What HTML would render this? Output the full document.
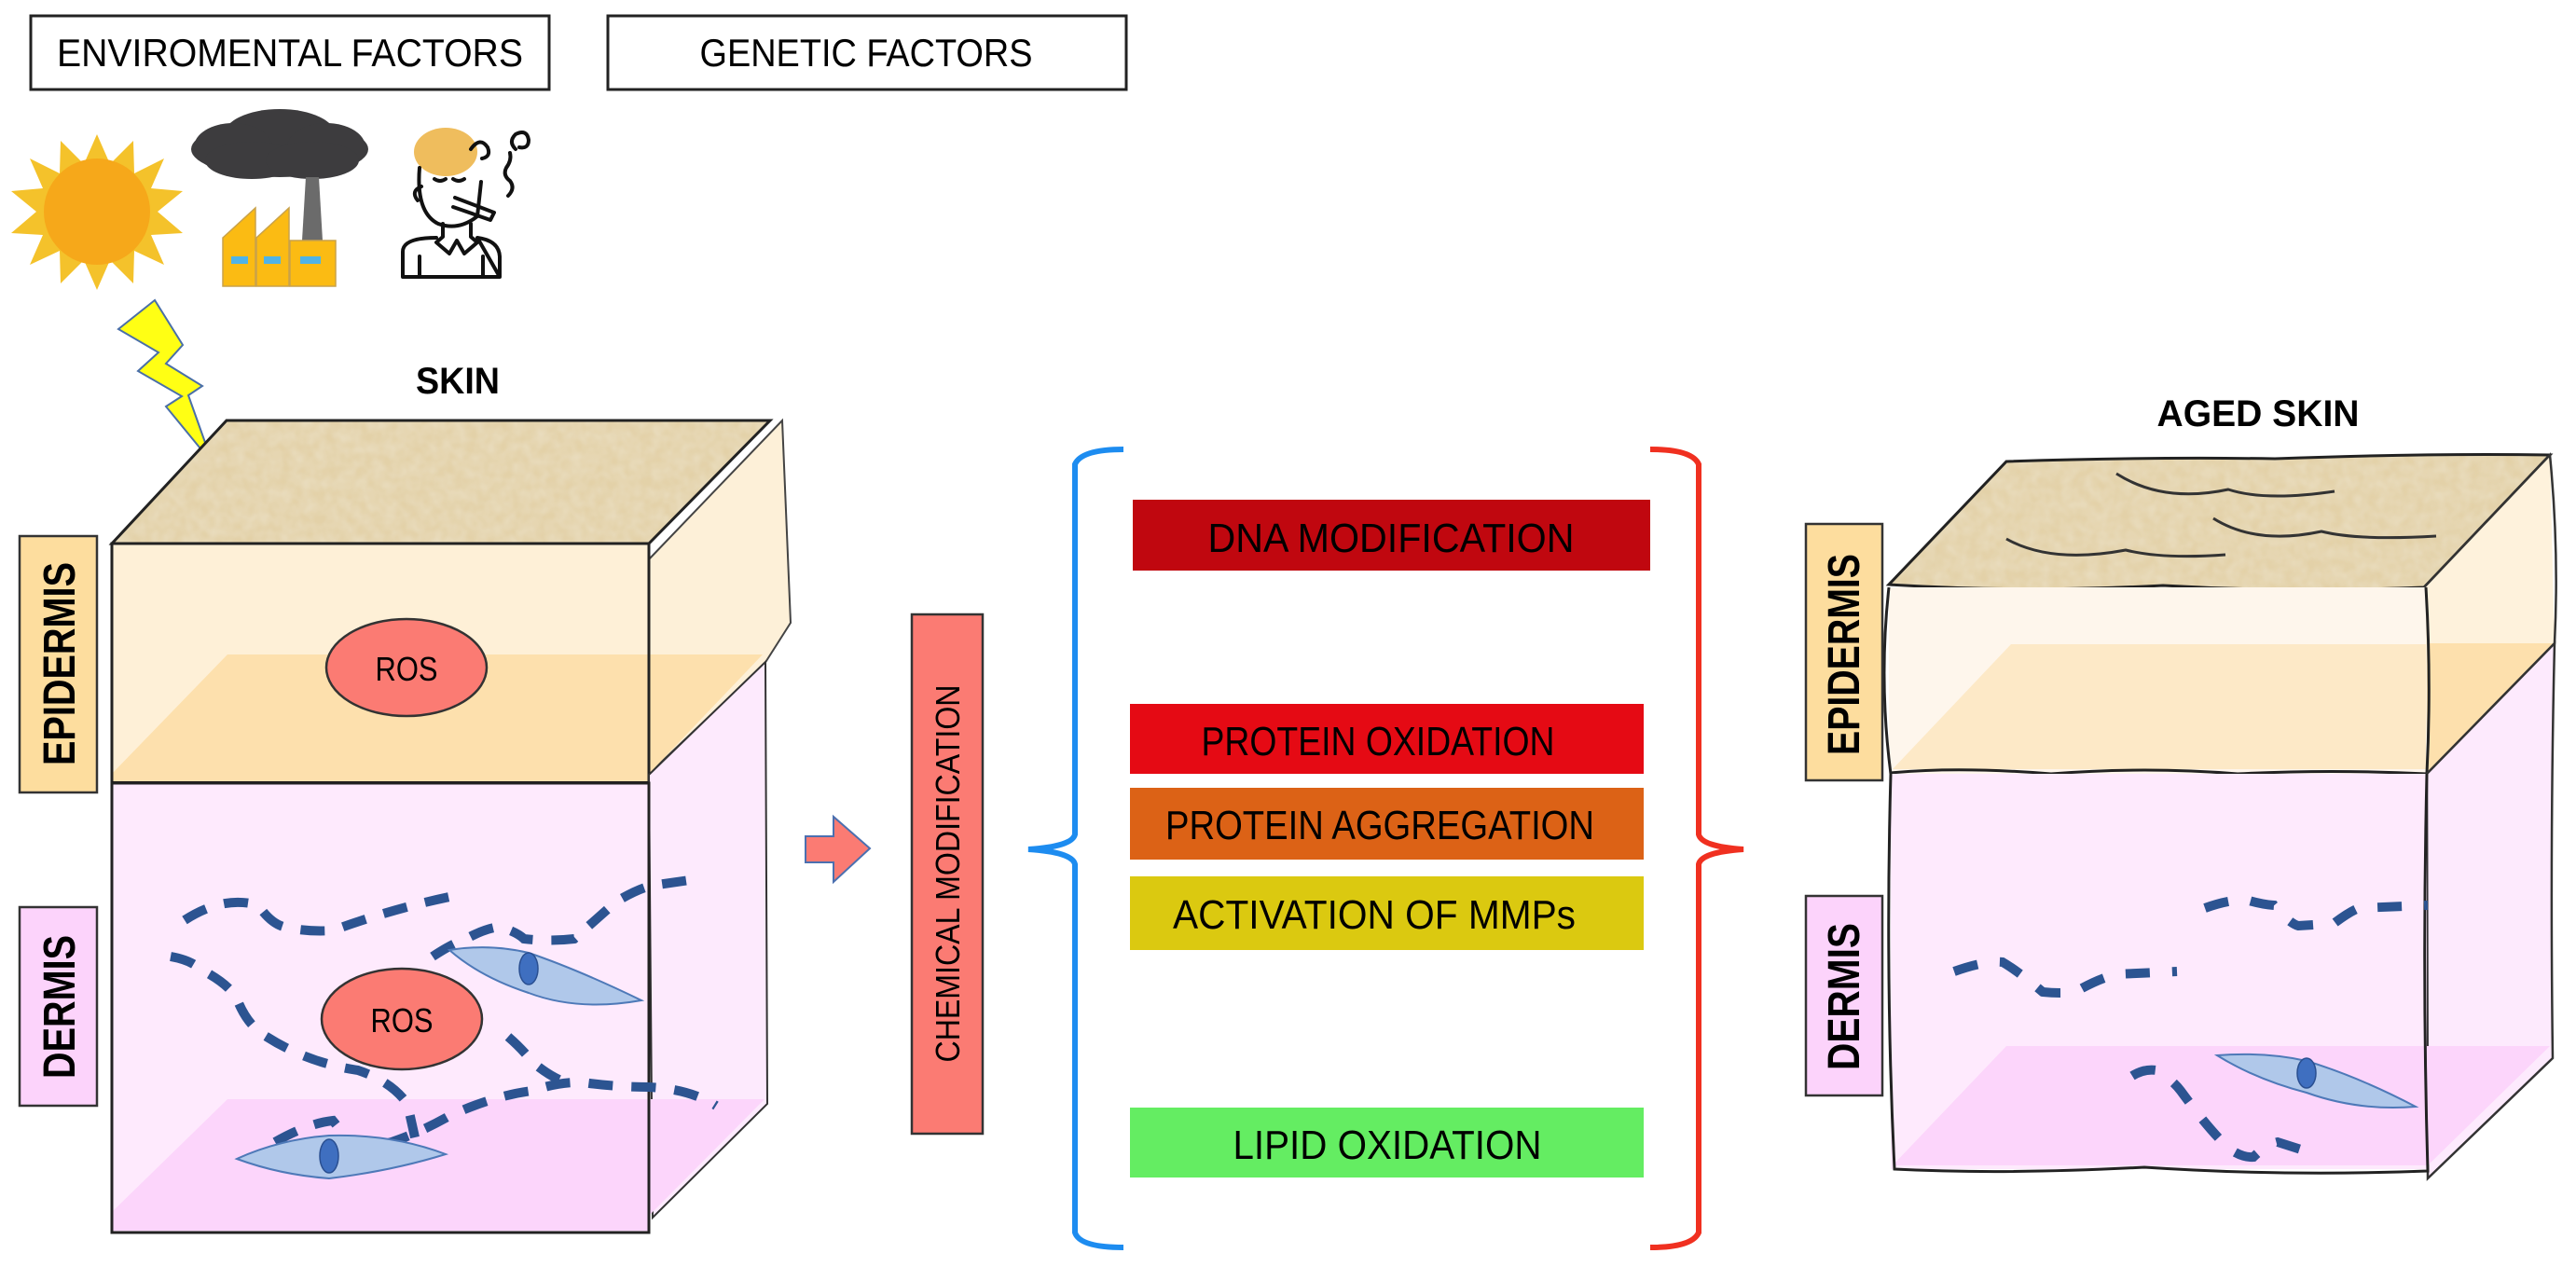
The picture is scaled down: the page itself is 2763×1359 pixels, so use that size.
<!DOCTYPE html>
<html><head><meta charset="utf-8"><style>html,body{margin:0;padding:0;background:#fff}svg{display:block}</style></head>
<body>
<svg width="2763" height="1359" viewBox="0 0 2763 1359" xmlns="http://www.w3.org/2000/svg" font-family="Liberation Sans, sans-serif">
<defs>
<filter id="tex" x="0" y="0" width="100%" height="100%">
<feTurbulence type="fractalNoise" baseFrequency="0.08" numOctaves="2" seed="3" result="n"/>
<feColorMatrix in="n" type="matrix" values="0 0 0 0 0.86  0 0 0 0 0.79  0 0 0 0 0.63  0 0 0 -1.4 1.1" result="c"/>
<feComposite in="c" in2="SourceGraphic" operator="in"/>
</filter>
</defs>

<rect x="33" y="17" width="556" height="79" fill="#fff" stroke="#222" stroke-width="3"/>
<text x="311" y="71" font-size="42" text-anchor="middle" textLength="500" lengthAdjust="spacingAndGlyphs">ENVIROMENTAL FACTORS</text>
<rect x="652" y="17" width="556" height="79" fill="#fff" stroke="#222" stroke-width="3"/>
<text x="929" y="71" font-size="42" text-anchor="middle" textLength="357" lengthAdjust="spacingAndGlyphs">GENETIC FACTORS</text>

<polygon fill="#f4c22b" points="104,144 118,176 143,151 144,186 176,170 162,202 196,205 169,227 196,250 162,252 176,284 144,269 143,304 118,279 104,311 90,279 65,304 64,269 32,284 46,252 12,250 39,227 12,205 46,202 32,170 64,186 65,151 90,176"/>
<ellipse cx="104" cy="227" rx="57" ry="57" fill="#f6a81a"/>

<g fill="#3d3c3e">
<ellipse cx="300" cy="160" rx="95" ry="30"/>
<ellipse cx="300" cy="145" rx="60" ry="28"/>
<ellipse cx="250" cy="158" rx="42" ry="26"/>
<ellipse cx="350" cy="158" rx="42" ry="26"/>
<ellipse cx="270" cy="172" rx="50" ry="20"/>
<ellipse cx="335" cy="172" rx="50" ry="20"/>
</g>
<polygon fill="#6b6b6b" points="328,190 342,190 346,258 324,258"/>
<g fill="#fbbb13" stroke="#c9a24a" stroke-width="1.5">
<polygon points="239,255 274,223 274,307 239,307"/>
<polygon points="275,255 310,223 310,307 275,307"/>
<rect x="311" y="258" width="49" height="49"/>
</g>
<g fill="#4fb3e8"><rect x="248" y="275" width="18" height="8"/><rect x="283" y="275" width="18" height="8"/><rect x="322" y="275" width="22" height="8"/></g>

<ellipse cx="478" cy="163" rx="34" ry="26" fill="#efbd5d"/>
<g fill="none" stroke="#111" stroke-width="4" stroke-linecap="round" stroke-linejoin="round">
<path d="M450,180 Q446,228 470,240 Q492,248 512,232 L516,195"/>
<path d="M452,200 Q440,205 448,215"/>
<path d="M466,192 q6,4 12,0 M486,192 q6,4 12,0"/>
<path d="M488,212 L530,228 L526,236 L486,222"/>
<path d="M505,160 q10,-14 18,-2 q4,10 -6,12"/>
<path d="M475,240 L475,254 L468,260 L482,272 L490,258 L498,272 L512,260 L505,254 L505,240"/>
<path d="M432,297 L432,270 Q432,255 468,255 M512,255 Q535,258 536,275 L536,297 Z M432,297 L536,297"/>
<path d="M450,297 L450,275 M518,297 L518,275"/>
<path d="M545,210 q8,-8 2,-16 q-8,-6 -4,-14 q6,-8 4,-16"/>
<path d="M553,160 q-8,-8 0,-16 q12,-6 14,6 q0,10 -10,8"/>
</g>

<polygon fill="#ffff14" stroke="#4a6fa8" stroke-width="2" points="166,322 127,353 170,378 148,398 195,425 178,436 228,497 202,424 217,414 178,390 196,370"/>

<text x="491" y="422" font-size="40" font-weight="bold" text-anchor="middle" textLength="90" lengthAdjust="spacingAndGlyphs">SKIN</text>

<polygon points="243,451 826,451 696,583 120,583" fill="#e3d1a8"/>
<polygon points="243,451 826,451 696,583 120,583" fill="#fff" filter="url(#tex)" opacity="0.55"/>
<polygon points="243,451 826,451 696,583 120,583" fill="none" stroke="#222" stroke-width="3"/>
<polygon points="696,600 839,451 848,668 820,712 696,830" fill="#fdf0d8" stroke="#444" stroke-width="2"/>
<rect x="120" y="583" width="576" height="257" fill="#fef0d7"/>
<polygon points="244,702 818,702 696,830 696,838 120,838 120,830" fill="#fde0ad"/>
<rect x="120" y="583" width="576" height="257" fill="none" stroke="#222" stroke-width="3"/>
<line x1="120" y1="840" x2="696" y2="840" stroke="#111" stroke-width="4"/>
<ellipse cx="436" cy="716" rx="86" ry="52" fill="#fb7b73" stroke="#333" stroke-width="2.5"/>
<text x="436" y="730" font-size="36" text-anchor="middle" textLength="67" lengthAdjust="spacingAndGlyphs">ROS</text>
<polygon points="696,831 821,710 823,1184 700,1306" fill="#fdeafd" stroke="#333" stroke-width="2"/>
<rect x="120" y="840" width="576" height="482" fill="#feeafd"/>
<polygon points="244,1179 820,1179 696,1304 696,1320 120,1320 120,1300" fill="#fcd5fb"/>
<rect x="120" y="840" width="576" height="482" fill="none" stroke="#222" stroke-width="3"/>

<rect x="21" y="575" width="83" height="275" fill="#fddd9e" stroke="#333" stroke-width="2.5"/>
<text transform="translate(80,712) rotate(-90)" font-size="48" font-weight="bold" text-anchor="middle" textLength="218" lengthAdjust="spacingAndGlyphs">EPIDERMIS</text>
<rect x="21" y="973" width="83" height="213" fill="#fcd3fb" stroke="#333" stroke-width="2.5"/>
<text transform="translate(80,1080) rotate(-90)" font-size="48" font-weight="bold" text-anchor="middle" textLength="154" lengthAdjust="spacingAndGlyphs">DERMIS</text>

<g fill="none" stroke="#2c5491" stroke-width="10" stroke-dasharray="26 20">
<path d="M198,987 Q240,960 277,971 Q290,990 304,994 Q330,1000 357,998 Q420,975 482,962 L495,973"/>
<path d="M183,1026 Q205,1030 214,1039 Q245,1055 254,1071 Q265,1100 286,1112 Q330,1140 384,1148 Q420,1160 437,1184 L445,1220"/>
<path d="M295,1225 Q330,1205 357,1202 Q370,1218 380,1232 Q400,1230 420,1225 Q450,1215 482,1197 Q530,1175 571,1170 Q600,1160 625,1161 Q660,1166 696,1166 Q740,1168 768,1186"/>
<path d="M464,1026 Q485,1012 500,1007 Q520,996 536,994 Q555,1000 562,1007 Q590,1010 616,1007 Q635,990 661,967 Q690,950 705,949 L754,942"/>
<path d="M545,1112 Q560,1125 571,1139 Q590,1155 607,1161"/>
</g>
<path d="M482,1019 Q525,1012 567,1022 Q620,1040 688,1073 Q620,1085 567,1065 Q515,1048 482,1019 Z" fill="#b0c8ea" stroke="#4e79b8" stroke-width="2"/>
<ellipse cx="567" cy="1039" rx="10" ry="17" fill="#3f6fc0" stroke="#2a4f91" stroke-width="1.5"/>
<path d="M254,1243 Q300,1222 353,1218 Q420,1216 478,1238 Q420,1256 353,1264 Q300,1260 254,1243 Z" fill="#b0c8ea" stroke="#4e79b8" stroke-width="2"/>
<ellipse cx="353" cy="1240" rx="10" ry="18" fill="#3f6fc0" stroke="#2a4f91" stroke-width="1.5"/>
<ellipse cx="431" cy="1093" rx="86" ry="54" fill="#fb7b73" stroke="#333" stroke-width="2.5"/>
<text x="431" y="1107" font-size="36" text-anchor="middle" textLength="67" lengthAdjust="spacingAndGlyphs">ROS</text>

<polygon points="864,897 894,897 894,876 933,910 894,946 894,925 864,925" fill="#fb7b73" stroke="#4b70b0" stroke-width="2"/>

<rect x="978" y="659" width="76" height="557" fill="#fb7b73" stroke="#333" stroke-width="2.5"/>
<text transform="translate(1029,937) rotate(-90)" font-size="36" text-anchor="middle" textLength="405" lengthAdjust="spacingAndGlyphs">CHEMICAL MODIFICATION</text>

<path d="M1205,482 Q1160,482 1153,498 L1153,895 Q1150,908 1103,911 Q1150,914 1153,927 L1153,1322 Q1158,1338 1205,1338" fill="none" stroke="#1d8cf0" stroke-width="6"/>
<path d="M1770,482 Q1815,482 1822,498 L1822,895 Q1825,908 1870,911 Q1825,914 1822,927 L1822,1322 Q1815,1338 1770,1338" fill="none" stroke="#f03020" stroke-width="6"/>

<rect x="1215" y="536" width="555" height="76" fill="#c0070f"/>
<text x="1492" y="592" font-size="44" text-anchor="middle" textLength="393" lengthAdjust="spacingAndGlyphs">DNA MODIFICATION</text>
<rect x="1212" y="755" width="551" height="75" fill="#e50a14"/>
<text x="1478" y="810" font-size="44" text-anchor="middle" textLength="379" lengthAdjust="spacingAndGlyphs">PROTEIN OXIDATION</text>
<rect x="1212" y="845" width="551" height="77" fill="#dc6216"/>
<text x="1480" y="900" font-size="44" text-anchor="middle" textLength="460" lengthAdjust="spacingAndGlyphs">PROTEIN AGGREGATION</text>
<rect x="1212" y="940" width="551" height="79" fill="#dbc910"/>
<text x="1474" y="996" font-size="44" text-anchor="middle" textLength="432" lengthAdjust="spacingAndGlyphs">ACTIVATION OF MMPs</text>
<rect x="1212" y="1188" width="551" height="75" fill="#64ed62"/>
<text x="1488" y="1243" font-size="44" text-anchor="middle" textLength="331" lengthAdjust="spacingAndGlyphs">LIPID OXIDATION</text>

<text x="2422" y="457" font-size="40" font-weight="bold" text-anchor="middle" textLength="217" lengthAdjust="spacingAndGlyphs">AGED SKIN</text>
<path d="M2152,495 Q2300,490 2440,492 Q2600,486 2735,488 L2600,630 Q2460,636 2320,628 Q2170,636 2026,627 Z" fill="#e3d1a8"/>
<path d="M2152,495 Q2300,490 2440,492 Q2600,486 2735,488 L2600,630 Q2460,636 2320,628 Q2170,636 2026,627 Z" fill="#fff" filter="url(#tex)" opacity="0.55"/>
<path d="M2152,495 Q2300,490 2440,492 Q2600,486 2735,488 L2600,630 Q2460,636 2320,628 Q2170,636 2026,627 Z" fill="none" stroke="#222" stroke-width="3"/>
<g fill="none" stroke="#333" stroke-width="3">
<path d="M2270,508 Q2320,540 2390,525 Q2430,538 2504,527"/>
<path d="M2374,556 Q2420,585 2490,570 Q2530,580 2613,575"/>
<path d="M2152,578 Q2200,605 2280,590 Q2320,600 2387,595"/>
</g>
<polygon points="2600,630 2735,488 2740,690 2603,830" fill="#fef2dc"/>
<polygon points="2603,690 2740,690 2603,830" fill="#fde0ad"/>
<path d="M2600,630 L2735,488 Q2745,590 2740,690 L2603,830" fill="none" stroke="#333" stroke-width="2.5"/>
<rect x="2026" y="630" width="576" height="200" fill="#fef6ec"/>
<polygon points="2157,691 2602,691 2602,825 2030,825" fill="#fde9c7"/>
<path d="M2026,630 Q2015,730 2028,830 M2602,630 Q2608,730 2603,830" fill="none" stroke="#222" stroke-width="3"/>
<path d="M2028,829 Q2100,822 2200,830 Q2300,822 2400,830 Q2500,825 2603,830" fill="none" stroke="#222" stroke-width="3"/>
<path d="M2603,830 L2740,690 Q2735,900 2738,1135 L2604,1264 Z" fill="#fdeafd" stroke="#333" stroke-width="2.5"/>
<rect x="2028" y="830" width="575" height="424" fill="#feeafd"/>
<polygon points="2152,1122 2735,1122 2604,1250 2030,1250" fill="#fcd5fb"/>
<path d="M2028,830 Q2022,1050 2032,1254 Q2150,1260 2300,1252 Q2450,1262 2604,1256 Q2598,1050 2603,830" fill="none" stroke="#222" stroke-width="3"/>
<rect x="1937" y="562" width="82" height="275" fill="#fddd9e" stroke="#333" stroke-width="2.5"/>
<text transform="translate(1994,702) rotate(-90)" font-size="48" font-weight="bold" text-anchor="middle" textLength="216" lengthAdjust="spacingAndGlyphs">EPIDERMIS</text>
<rect x="1937" y="961" width="82" height="214" fill="#fcd3fb" stroke="#333" stroke-width="2.5"/>
<text transform="translate(1994,1069) rotate(-90)" font-size="48" font-weight="bold" text-anchor="middle" textLength="158" lengthAdjust="spacingAndGlyphs">DERMIS</text>
<g fill="none" stroke="#2c5491" stroke-width="10" stroke-dasharray="26 24">
<path d="M2096,1042 Q2130,1030 2148,1032 Q2165,1042 2191,1064 Q2210,1066 2226,1064 Q2250,1050 2270,1045 L2335,1042"/>
<path d="M2365,974 Q2390,965 2409,965 Q2425,970 2439,971 Q2455,990 2465,993 Q2485,992 2504,990 Q2520,978 2530,974 L2604,971"/>
<path d="M2287,1154 Q2300,1146 2313,1148 Q2330,1158 2339,1170 Q2350,1185 2361,1199 Q2378,1220 2391,1232 Q2405,1242 2417,1241 Q2430,1228 2443,1225 Q2465,1232 2483,1238"/>
</g>
<path d="M2378,1132 Q2430,1128 2474,1138 Q2530,1155 2591,1187 Q2530,1192 2474,1172 Q2420,1158 2378,1132 Z" fill="#b0c8ea" stroke="#4e79b8" stroke-width="2"/>
<ellipse cx="2474" cy="1151" rx="10" ry="16" fill="#3f6fc0" stroke="#2a4f91" stroke-width="1.5"/>
</svg>
</body></html>
